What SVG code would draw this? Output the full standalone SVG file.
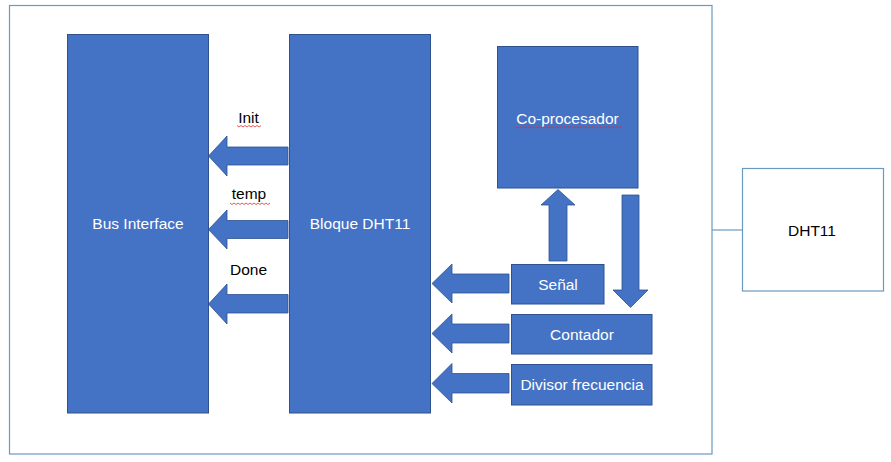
<svg xmlns="http://www.w3.org/2000/svg" width="891" height="462" viewBox="0 0 891 462">
<defs>
<style>
.blk{fill:#4472C4;stroke:#2F528F;stroke-width:1}
.arr{fill:#4472C4;stroke:#2F528F;stroke-width:0.8}
.wt{fill:#ffffff;font-family:"Liberation Sans",Arial,sans-serif;font-size:15.5px;text-anchor:middle;dominant-baseline:central}
.bk{fill:#000000;font-family:"Liberation Sans",Arial,sans-serif;font-size:15.5px;text-anchor:middle;dominant-baseline:central}
.frame{fill:none;stroke:#6A99C2;stroke-width:1.2}
.sq{fill:none;stroke:#E03030;stroke-width:0.8}
</style>
</defs>
<rect width="891" height="462" fill="#ffffff"/>
<rect id="frame" class="frame" x="9.5" y="5.5" width="702.5" height="448.5"/>

<g id="bus-interface">
<rect class="blk" x="67.5" y="34.5" width="141" height="378.5"/>
<text class="wt" x="138" y="223">Bus Interface</text>
</g>
<g id="bloque-dht11">
<rect class="blk" x="289.5" y="34.5" width="141" height="378.5"/>
<text class="wt" x="360" y="223">Bloque DHT11</text>
</g>
<g id="coprocesador">
<rect class="blk" x="497.5" y="46.5" width="140.5" height="141.5"/>
<text class="wt" x="567.5" y="118">Co-procesador</text>
<path class="sq" d="M516 126.5 l2 1.5 l2 -1.5 l2 1.5 l2 -1.5 l2 1.5 l2 -1.5 l2 1.5 l2 -1.5 l2 1.5 l2 -1.5 l2 1.5 l2 -1.5 l2 1.5 l2 -1.5 l2 1.5 l2 -1.5 l2 1.5 l2 -1.5 l2 1.5 l2 -1.5 l2 1.5 l2 -1.5 l2 1.5 l2 -1.5 l2 1.5 l2 -1.5 l2 1.5 l2 -1.5 l2 1.5 l2 -1.5 l2 1.5 l2 -1.5 l2 1.5 l2 -1.5 l2 1.5 l2 -1.5 l2 1.5 l2 -1.5 l2 1.5 l2 -1.5 l2 1.5 l2 -1.5 l2 1.5 l2 -1.5 l2 1.5 l2 -1.5 l2 1.5 l2 -1.5 l2 1.5 l2 -1.5 l2 1.5 l2 -1.5 l2 1.5"/>
</g>
<g id="senal">
<rect class="blk" x="511.5" y="264.5" width="92.5" height="39.5"/>
<text class="wt" x="558" y="284">Señal</text>
</g>
<g id="contador">
<rect class="blk" x="511.5" y="314.5" width="140.5" height="39.5"/>
<text class="wt" x="582" y="334">Contador</text>
</g>
<g id="divisor">
<rect class="blk" x="511.5" y="364.5" width="140.5" height="40.5"/>
<text class="wt" x="582" y="384.5">Divisor frecuencia</text>
</g>
<g id="dht11">
<rect class="frame" x="742.5" y="168.5" width="141" height="122.5"/>
<text class="bk" x="812" y="230">DHT11</text>
</g>

<g id="connectors">
<line x1="712" y1="230" x2="742.5" y2="230" stroke="#6A99C2" stroke-width="1.2"/>
<polygon class="arr" points="288,147 227,147 227,136 208.5,156 227,176 227,165 288,165"/>
<polygon class="arr" points="288,220.5 227,220.5 227,210 208.5,229.5 227,249 227,238.5 288,238.5"/>
<polygon class="arr" points="288,294.5 227,294.5 227,284 208.5,304 227,324 227,313 288,313"/>
<polygon class="arr" points="509,274 452,274 452,264 432,283.5 452,303 452,293 509,293"/>
<polygon class="arr" points="509,324 452,324 452,314 432,333.5 452,353 452,343 509,343"/>
<polygon class="arr" points="509,373.5 452,373.5 452,363.5 432,383.5 452,403 452,393 509,393"/>
<polygon class="arr" points="549,261 549,205 541,205 558,189.5 575,205 567,205 567,261"/>
<polygon class="arr" points="622,195 639,195 639,290 648,290 630.5,307.5 613,290 622,290"/>
</g>

<g id="labels">
<text class="bk" x="248.5" y="117">Init</text>
<path class="sq" d="M237 125.5 l2 1.5 l2 -1.5 l2 1.5 l2 -1.5 l2 1.5 l2 -1.5 l2 1.5 l2 -1.5 l2 1.5 l2 -1.5 l2 1.5 l2 -1.5"/>
<text class="bk" x="249" y="193">temp</text>
<path class="sq" d="M230 203 l2 1.5 l2 -1.5 l2 1.5 l2 -1.5 l2 1.5 l2 -1.5 l2 1.5 l2 -1.5 l2 1.5 l2 -1.5 l2 1.5 l2 -1.5 l2 1.5 l2 -1.5 l2 1.5 l2 -1.5 l2 1.5 l2 -1.5 l2 1.5 l2 -1.5"/>
<text class="bk" x="248.5" y="269">Done</text>
</g>
</svg>
